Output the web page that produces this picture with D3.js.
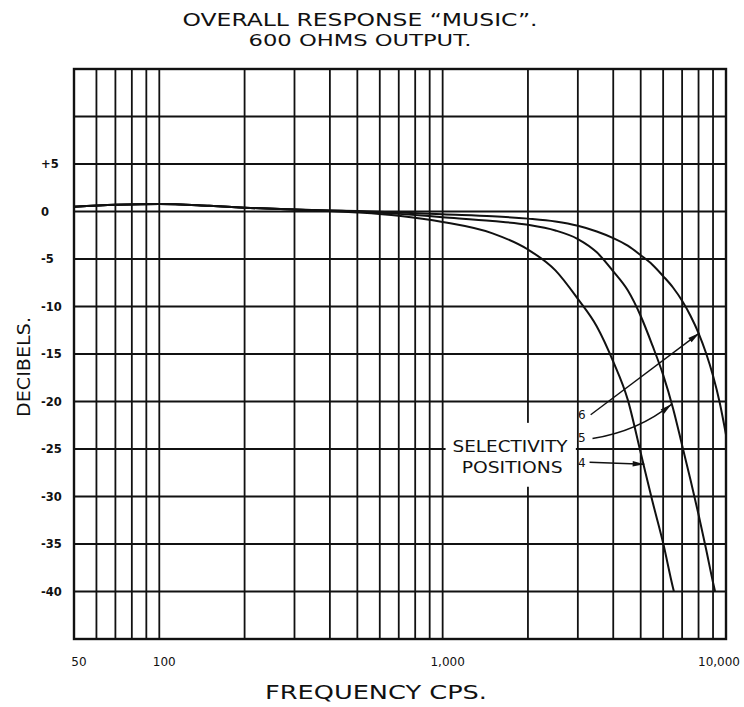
<!DOCTYPE html>
<html>
<head>
<meta charset="utf-8">
<script src="https://cdn.jsdelivr.net/npm/d3@7"></script>
<style>
  html, body { margin: 0; padding: 0; background: #fff; }
  svg { display: block; }
  text { font-family: "DejaVu Sans", sans-serif; fill: #111; }
</style>
</head>
<body>
<div id="chart"></div>
<script>
// ---- DATA ----
const freqTicks = [50, 100, 1000, 10000];
const freqTickLabels = ["50", "100", "1,000", "10,000"];
const gridFreqs = [60, 70, 80, 90, 100, 200, 300, 400, 500, 600, 700, 800, 900,
                   1000, 2000, 3000, 4000, 5000, 6000, 7000, 8000, 9000];
const dbTicks = [5, 0, -5, -10, -15, -20, -25, -30, -35, -40];
const dbTickLabels = ["+5", "0", "-5", "-10", "-15", "-20", "-25", "-30", "-35", "-40"];
const gridDbs = [10, 5, 0, -5, -10, -15, -20, -25, -30, -35, -40];

// selectivity position 4
const freq4 = [50, 70, 100, 150, 200, 300, 500, 700, 1000, 1500, 2000, 2500, 3000, 3500, 4000, 4500, 5000, 5500, 6000, 6500, 6550];
const db4   = [0.5, 0.7, 0.8, 0.6, 0.4, 0.2, -0.1, -0.45, -1.1, -2.3, -4.0, -6.2, -9.2, -12.1, -15.8, -19.8, -25.4, -30.5, -34.9, -39.6, -40];
// selectivity position 5
const freq5 = [50, 70, 100, 150, 200, 300, 500, 700, 1000, 1500, 2000, 2500, 3000, 3500, 4000, 4500, 5000, 5500, 6000, 6500, 7000, 7500, 8000, 8500, 9000, 9150];
const db5   = [0.5, 0.7, 0.8, 0.6, 0.4, 0.2, 0.0, -0.25, -0.6, -1.0, -1.4, -2.0, -2.9, -4.3, -6.3, -8.3, -11.0, -14.1, -17.2, -20.7, -24.6, -28.3, -31.9, -35.5, -39.05, -40];
// selectivity position 6
const freq6 = [50, 70, 100, 150, 200, 300, 500, 700, 1000, 1500, 2000, 2500, 3000, 3500, 4000, 4500, 5000, 5500, 6000, 6500, 7000, 7500, 8000, 8500, 9000, 9500, 10000];
const db6   = [0.5, 0.7, 0.8, 0.6, 0.4, 0.2, 0.05, -0.1, -0.3, -0.5, -0.75, -1.05, -1.5, -2.1, -2.8, -3.6, -4.6, -5.6, -6.8, -8.0, -9.4, -11.0, -12.8, -14.9, -17.3, -20.1, -23.5];

// arrows: label at [freq, dB], arrow from -> to
const arrowLabels = ["6", "5", "4"];
const arrowLabelAt = [[3100, -21.4], [3100, -23.8], [3100, -26.5]];
const arrowFrom = [[3330, -21.4], [3380, -23.9], [3300, -26.4]];
const arrowTo   = [[8050, -12.8], [6420, -20.3], [5150, -26.6]];
const arrowBend = [0, 1.6, 0];

const noteLines = ["SELECTIVITY", "POSITIONS"];
const noteAt = [[1730, -25.3], [1760, -27.5]];

// ---- LAYOUT ----
const width = 744, height = 707;
const svg = d3.select("#chart").append("svg")
    .attr("width", width)
    .attr("height", height);

const x = d3.scaleLog().domain([50, 10000]).range([74, 726]);
const y = d3.scaleLinear().domain([15, -45]).range([69, 639]);

const ink = "#111";

// ---- GRID ----
const grid = svg.append("g").attr("stroke", ink).attr("stroke-width", 1.8);
grid.selectAll(".vg").data(gridFreqs).enter().append("line")
    .attr("x1", d => x(d)).attr("x2", d => x(d))
    .attr("y1", y(15)).attr("y2", y(-45));
grid.selectAll(".hg").data(gridDbs).enter().append("line")
    .attr("x1", x(50)).attr("x2", x(10000))
    .attr("y1", d => y(d)).attr("y2", d => y(d));

svg.append("rect")
    .attr("x", x(50)).attr("y", y(15))
    .attr("width", x(10000) - x(50)).attr("height", y(-45) - y(15))
    .attr("fill", "none").attr("stroke", ink).attr("stroke-width", 2.4);

// ---- NOTE BOX ----
const note = svg.append("g");
note.selectAll("text").data(noteLines).enter().append("text")
    .attr("x", (d, i) => x(noteAt[i][0]))
    .attr("y", (d, i) => y(noteAt[i][1]))
    .attr("text-anchor", "middle")
    .attr("font-size", 16)
    .attr("textLength", (d, i) => i === 0 ? 115 : 101)
    .attr("lengthAdjust", "spacingAndGlyphs")
    .text(d => d);
const bb = note.node().getBBox();
note.insert("rect", "text")
    .attr("x", bb.x - 7).attr("y", bb.y - 14)
    .attr("width", bb.width + 15).attr("height", bb.height + 24)
    .attr("fill", "#fff");

// ---- CURVES ----
const line = d3.line()
    .x(d => x(d[0]))
    .y(d => y(d[1]))
    .curve(d3.curveMonotoneX);

const series = [d3.zip(freq4, db4), d3.zip(freq5, db5), d3.zip(freq6, db6)];
svg.append("g").selectAll("path").data(series).enter().append("path")
    .attr("d", line)
    .attr("fill", "none")
    .attr("stroke", ink)
    .attr("stroke-width", 2);

// ---- ARROWS ----
svg.append("defs").append("marker")
    .attr("id", "head")
    .attr("viewBox", "0 0 10 6")
    .attr("refX", 10).attr("refY", 3)
    .attr("markerWidth", 14).attr("markerHeight", 7)
    .attr("markerUnits", "userSpaceOnUse")
    .attr("orient", "auto")
    .append("path").attr("d", "M0,0.6L10,3L0,5.4Z").attr("fill", ink);

const arrows = svg.append("g");
arrowLabels.forEach((lab, i) => {
    const x0 = x(arrowFrom[i][0]), y0 = y(arrowFrom[i][1]);
    const x1 = x(arrowTo[i][0]), y1 = y(arrowTo[i][1]);
    const cx = (x0 + x1) / 2 + arrowBend[i] * 4, cy = (y0 + y1) / 2 + arrowBend[i] * 6;
    arrows.append("path")
        .attr("d", `M${x0},${y0}Q${cx},${cy} ${x1},${y1}`)
        .attr("fill", "none")
        .attr("stroke", ink)
        .attr("stroke-width", 1.4)
        .attr("marker-end", "url(#head)");
    arrows.append("text")
        .attr("x", x(arrowLabelAt[i][0]))
        .attr("y", y(arrowLabelAt[i][1]))
        .attr("text-anchor", "middle")
        .attr("dominant-baseline", "central")
        .attr("font-size", 12)
        .text(lab);
});

// ---- AXIS LABELS ----
svg.append("g").selectAll("text").data(dbTicks).enter().append("text")
    .attr("x", 41)
    .attr("y", d => y(d))
    .attr("dominant-baseline", "central")
    .attr("font-size", 11.5)
    .attr("font-weight", "bold")
    .text((d, i) => dbTickLabels[i]);

svg.append("g").selectAll("text").data(freqTicks).enter().append("text")
    .attr("x", d => Math.min(x(d) + 5, width - 25))
    .attr("y", 666)
    .attr("text-anchor", "middle")
    .attr("font-size", 12)
    .text((d, i) => freqTickLabels[i]);

svg.append("text")
    .attr("transform", "translate(30,367) rotate(-90)")
    .attr("text-anchor", "middle")
    .attr("font-size", 18)
    .attr("textLength", 100)
    .attr("lengthAdjust", "spacingAndGlyphs")
    .text("DECIBELS.");

svg.append("text")
    .attr("x", 376).attr("y", 699)
    .attr("text-anchor", "middle")
    .attr("font-size", 20)
    .attr("textLength", 222)
    .attr("lengthAdjust", "spacingAndGlyphs")
    .text("FREQUENCY CPS.");

// ---- TITLE ----
svg.append("text")
    .attr("x", 360).attr("y", 26)
    .attr("text-anchor", "middle")
    .attr("font-size", 18)
    .attr("textLength", 355)
    .attr("lengthAdjust", "spacingAndGlyphs")
    .text("OVERALL RESPONSE \u201CMUSIC\u201D.");
svg.append("text")
    .attr("x", 360).attr("y", 46)
    .attr("text-anchor", "middle")
    .attr("font-size", 15)
    .attr("textLength", 223)
    .attr("lengthAdjust", "spacingAndGlyphs")
    .text("600 OHMS OUTPUT.");
</script>
</body>
</html>
